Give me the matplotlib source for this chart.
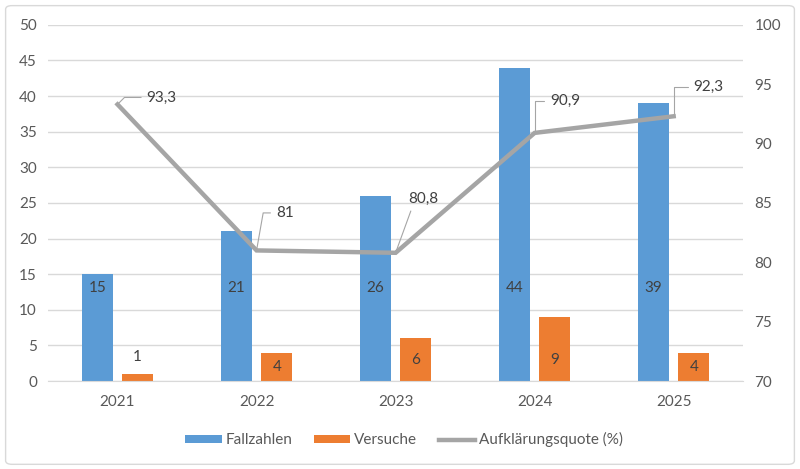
import numpy as np
import matplotlib.pyplot as plt
from matplotlib.patches import FancyBboxPatch

# chart data
years = ["2021", "2022", "2023", "2024", "2025"]
fallzahlen = [15, 21, 26, 44, 39]
versuche = [1, 4, 6, 9, 4]
quote = [93.3, 81.0, 80.8, 90.9, 92.3]
quote_labels = ["93,3", "81", "80,8", "90,9", "92,3"]

plt.rcParams['font.family'] = ['Lato', 'DejaVu Sans']

blue = '#5B9BD5'
orange = '#ED7D31'
gray = '#A5A5A5'
txt = '#595959'
fs = 11

fig = plt.figure(figsize=(8, 4.69), dpi=100)
ax = fig.add_axes([0.06, 0.1876, 0.869, 0.7594])
ax2 = ax.twinx()

x = np.arange(len(years))
w = 0.225
off = 0.145

b1 = ax.bar(x - off, fallzahlen, w, color=blue, label='Fallzahlen', zorder=2)
b2 = ax.bar(x + off, versuche, w, color=orange, label='Versuche', zorder=2)

# data labels on bars
for xi, v in zip(x, fallzahlen):
    ax.text(xi - off, 13, str(v), ha='center', va='center', fontsize=fs, color='#404040', zorder=3)
for xi, v in zip(x, versuche):
    if v < 2:
        y = v + 2.4
    else:
        y = min(v / 2, 3)
    ax.text(xi + off, y, str(v), ha='center', va='center', fontsize=fs, color='#404040', zorder=3)

ax.set_ylim(0, 50)
ax.set_yticks(np.arange(0, 51, 5))
ax.set_xlim(-0.5, len(years) - 0.5)
ax.set_xticks(x)
ax.set_xticklabels(years)
ax.yaxis.grid(True, color='#D9D9D9', lw=1)
ax.set_axisbelow(True)

ln, = ax2.plot(x, quote, color=gray, lw=3.2, label='Aufklärungsquote (%)', zorder=4,
               solid_joinstyle='miter')
ax2.set_ylim(70, 100)
ax2.set_yticks(np.arange(70, 101, 5))

# callout labels for the line
offsets = [(21, 5), (14, 27), (9, 39), (11, 23), (14, 21)]
angles = [45, 80, 70, 90, 90]
for xi, q, lab, (dx, dy), ang in zip(x, quote, quote_labels, offsets, angles):
    ax2.annotate(lab, xy=(xi, q), xytext=(dx, dy), textcoords='offset points',
                 ha='left', va='center', fontsize=fs, color='#404040',
                 arrowprops=dict(arrowstyle='-', color=gray, lw=0.8, shrinkA=2, shrinkB=0,
                                 connectionstyle='angle,angleA=0,angleB=%d,rad=0' % ang))

for a in (ax, ax2):
    for s in a.spines.values():
        s.set_visible(False)
    a.tick_params(length=0, labelsize=fs, colors=txt, pad=8)
ax.spines['bottom'].set_visible(True)
ax.spines['bottom'].set_color('#D9D9D9')
ax.tick_params(axis='x', pad=10)

fig.legend(handles=[b1, b2, ln], loc='center', bbox_to_anchor=(0.505, 0.062), ncol=3,
           frameon=False, fontsize=fs, handlelength=2.4, handleheight=0.5,
           columnspacing=1.4, handletextpad=0.25, labelcolor=txt)

border = FancyBboxPatch((0.007, 0.01), 0.986, 0.978, boxstyle='round,pad=0,rounding_size=0.008',
                        transform=fig.transFigure, fill=False, ec='#D9D9D9', lw=1)
fig.patches.append(border)

fig.savefig('out.png', dpi=100)
